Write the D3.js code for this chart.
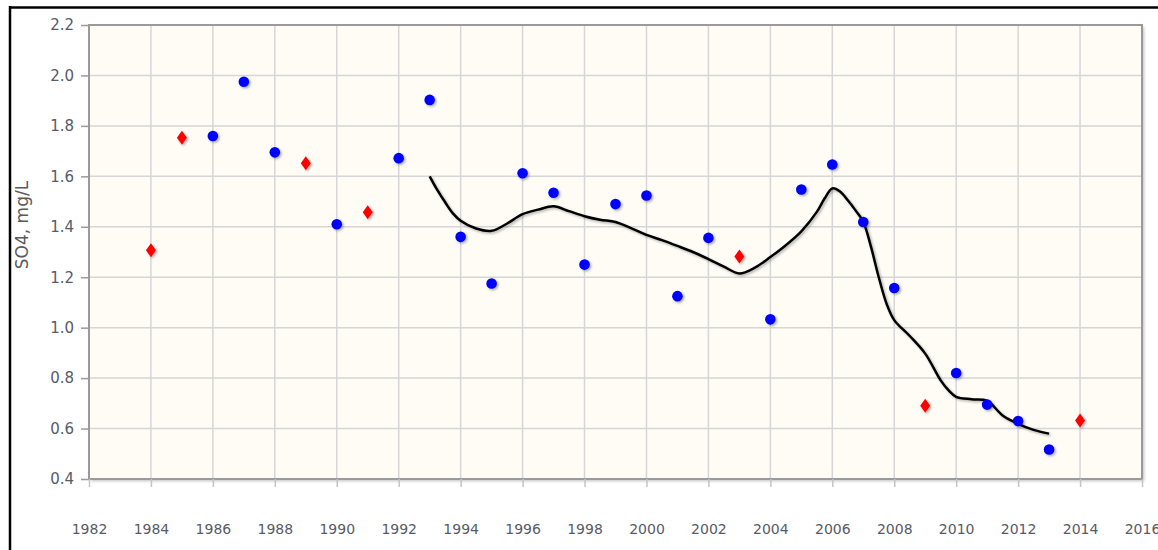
<!DOCTYPE html>
<html>
<head>
<meta charset="utf-8">
<script src="https://cdn.jsdelivr.net/npm/d3@7"></script>
<style>
  html, body { margin: 0; padding: 0; background: #fff; }
  svg { display: block; }
  text { font-family: "DejaVu Sans", Verdana, sans-serif; }
</style>
</head>
<body>
<svg id="chart" width="1158" height="550"></svg>
<script>
// Sulfate concentration, annual observations
const obsYears   = [1986, 1987, 1988, 1990, 1992, 1993, 1994, 1995, 1996, 1997, 1998, 1999, 2000, 2001, 2002, 2004, 2005, 2006, 2007, 2008, 2010, 2011, 2012, 2013];
const obsValues  = [1.76, 1.975, 1.695, 1.41, 1.672, 1.903, 1.36, 1.175, 1.612, 1.535, 1.25, 1.49, 1.524, 1.125, 1.356, 1.033, 1.548, 1.647, 1.419, 1.157, 0.82, 0.695, 0.63, 0.517];

// Flagged observations (diamond markers)
const flagYears  = [1984, 1985, 1989, 1991, 2003, 2009, 2014];
const flagValues = [1.307, 1.753, 1.652, 1.458, 1.282, 0.69, 0.632];

// Smoothed trend
const trendYears  = [1993, 1993.25, 1993.5, 1993.75, 1994, 1994.5, 1995, 1995.5, 1996, 1996.5, 1997, 1997.5, 1998, 1998.5, 1999, 1999.5, 2000, 2000.5, 2001, 2001.5, 2002, 2002.5, 2003, 2003.5, 2004, 2004.5, 2005, 2005.5, 2005.75, 2006, 2006.25, 2006.5, 2006.75, 2007, 2007.25, 2007.5, 2007.75, 2008, 2008.5, 2009, 2009.5, 2009.75, 2010, 2010.5, 2011, 2011.5, 2012, 2012.5, 2013];
const trendValues = [1.60, 1.545, 1.497, 1.453, 1.424, 1.393, 1.384, 1.413, 1.45, 1.468, 1.481, 1.462, 1.442, 1.428, 1.419, 1.395, 1.368, 1.347, 1.324, 1.30, 1.272, 1.242, 1.215, 1.238, 1.28, 1.327, 1.382, 1.459, 1.512, 1.552, 1.54, 1.505, 1.465, 1.42, 1.32, 1.20, 1.096, 1.03, 0.967, 0.897, 0.791, 0.752, 0.726, 0.716, 0.71, 0.652, 0.619, 0.595, 0.58];

// Axis ticks
const xTicks = [1982, 1984, 1986, 1988, 1990, 1992, 1994, 1996, 1998, 2000, 2002, 2004, 2006, 2008, 2010, 2012, 2014, 2016];
const yTicks = [0.4, 0.6, 0.8, 1.0, 1.2, 1.4, 1.6, 1.8, 2.0, 2.2];
const yTitle = "SO4, mg/L";

const svg = d3.select("#chart");
const plot = { left: 89, top: 25, right: 1142, bottom: 479 };

const x = d3.scaleLinear().domain([1982, 2016]).range([plot.left, plot.right]);
const y = d3.scaleLinear().domain([0.4, 2.2]).range([plot.bottom, plot.top]);

const defs = svg.append("defs");
const frameShadow = defs.append("filter").attr("id", "frameShadow")
  .attr("x", "-2%").attr("y", "-2%").attr("width", "104%").attr("height", "106%");
frameShadow.append("feDropShadow").attr("dx", 2).attr("dy", 2).attr("stdDeviation", 1.5)
  .attr("flood-color", "#000").attr("flood-opacity", 0.25);

const markShadow = defs.append("filter").attr("id", "markShadow")
  .attr("x", "-50%").attr("y", "-50%").attr("width", "200%").attr("height", "200%");
markShadow.append("feDropShadow").attr("dx", 1.5).attr("dy", 1.5).attr("stdDeviation", 1)
  .attr("flood-color", "#000").attr("flood-opacity", 0.3);

// Outer frame (top and left rules)
svg.append("line").attr("x1", 10).attr("x2", 1158).attr("y1", 7.5).attr("y2", 7.5)
  .attr("stroke", "#000").attr("stroke-width", 2.5);
svg.append("line").attr("x1", 10).attr("x2", 10).attr("y1", 6).attr("y2", 550)
  .attr("stroke", "#000").attr("stroke-width", 2.5);

// Plot background
svg.append("rect")
  .attr("x", plot.left).attr("y", plot.top)
  .attr("width", plot.right - plot.left).attr("height", plot.bottom - plot.top)
  .attr("fill", "#fefcf5")
  .attr("filter", "url(#frameShadow)");

// Grid
const grid = svg.append("g");
grid.selectAll("line.v").data(xTicks.slice(1, -1)).join("line")
  .attr("x1", d => x(d)).attr("x2", d => x(d))
  .attr("y1", plot.top).attr("y2", plot.bottom)
  .attr("stroke", "#d6d6d6").attr("stroke-width", 1.5);
grid.selectAll("line.h").data(yTicks.slice(1, -1)).join("line")
  .attr("x1", plot.left).attr("x2", plot.right)
  .attr("y1", d => y(d)).attr("y2", d => y(d))
  .attr("stroke", "#d6d6d6").attr("stroke-width", 1.5);

// Frame border
svg.append("rect")
  .attr("x", plot.left).attr("y", plot.top)
  .attr("width", plot.right - plot.left).attr("height", plot.bottom - plot.top)
  .attr("fill", "none").attr("stroke", "#9a9a9a").attr("stroke-width", 2);

// Axes
const yAxis = d3.axisLeft(y).tickValues(yTicks).tickFormat(d3.format(".1f"))
  .tickSize(8).tickPadding(7);
const gy = svg.append("g").attr("transform", `translate(${plot.left},0)`).call(yAxis);
gy.attr("font-size", null).attr("font-family", null);
gy.select(".domain").remove();
gy.selectAll(".tick line").attr("stroke", "#9a9a9a").attr("stroke-width", 1.5);
gy.selectAll(".tick text").attr("fill", "#575b66")
  .style("font-size", "15px").style("font-family", "'DejaVu Sans', Verdana, sans-serif");

const xAxis = d3.axisBottom(x).tickValues(xTicks).tickFormat(d3.format("d"))
  .tickSize(8).tickPadding(37);
const gx = svg.append("g").attr("transform", `translate(0,${plot.bottom})`).call(xAxis);
gx.attr("font-size", null).attr("font-family", null);
gx.select(".domain").remove();
gx.selectAll(".tick line").attr("stroke", "#c4c4c4").attr("stroke-width", 1.5);
gx.selectAll(".tick text").attr("fill", "#575b66")
  .style("font-size", "14px").style("font-family", "'DejaVu Sans', Verdana, sans-serif");

// Y title
svg.append("text")
  .attr("transform", "translate(22,225) rotate(-90)")
  .attr("text-anchor", "middle")
  .attr("dominant-baseline", "central")
  .style("font-size", "17px")
  .attr("fill", "#5a5a5a")
  .text(yTitle);

// Trend line
const trend = trendYears.map((yr, i) => [yr, trendValues[i]]);
svg.append("path")
  .datum(trend)
  .attr("d", d3.line().x(d => x(d[0])).y(d => y(d[1])).curve(d3.curveCatmullRom.alpha(0.5)))
  .attr("fill", "none").attr("stroke", "#000").attr("stroke-width", 2.5)
  .attr("filter", "url(#markShadow)");

// Observations
const obs = obsYears.map((yr, i) => [yr, obsValues[i]]);
svg.append("g").selectAll("circle").data(obs).join("circle")
  .attr("cx", d => x(d[0])).attr("cy", d => y(d[1])).attr("r", 5.3)
  .attr("fill", "#0000ff")
  .attr("filter", "url(#markShadow)");

// Flagged observations
const flags = flagYears.map((yr, i) => [yr, flagValues[i]]);
const diamond = "M0,-7L5,0L0,7L-5,0Z";
svg.append("g").selectAll("path").data(flags).join("path")
  .attr("transform", d => `translate(${x(d[0])},${y(d[1])})`)
  .attr("d", diamond)
  .attr("fill", "#ff0000")
  .attr("filter", "url(#markShadow)");
</script>
</body>
</html>
